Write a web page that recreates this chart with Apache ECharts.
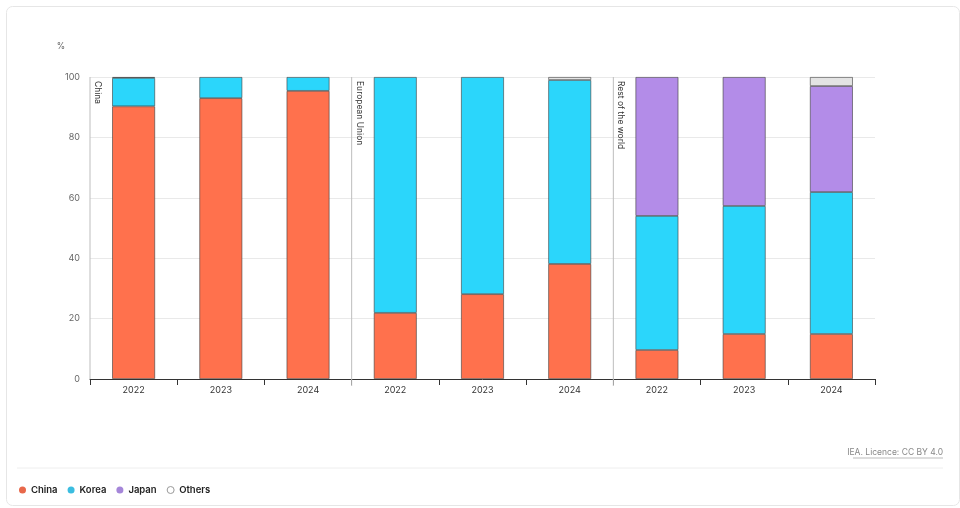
<!DOCTYPE html>
<html>
<head>
<meta charset="utf-8">
<script src="https://cdn.jsdelivr.net/npm/echarts@6/dist/echarts.min.js"></script>
<style>
html,body{margin:0;padding:0;background:#fff;}
#c{width:960px;height:508px;}
</style>
</head>
<body>
<div id="c"></div>
<script>
const categories = ['2022','2023','2024','2022','2023','2024','2022','2023','2024'];
const groupNames = ['China','European Union','Rest of the world'];
const groupStarts = [0, 3, 6];
const china  = [90.3, 93.0, 95.4, 21.9, 28.1, 38.1, 9.6, 14.9, 14.9];
const korea  = [9.4, 7.0, 4.6, 78.1, 71.9, 60.9, 44.4, 42.4, 47.0];
const japan  = [0.3, null, null, null, null, null, 46.0, 42.7, 35.1];
const others = [null, null, null, null, null, 1.0, null, null, 3.0];
const yTicks = [0, 20, 40, 60, 80, 100];

const FONT = 'Inter, "Noto Sans", sans-serif';
const colors = {China:'#FF714D', Korea:'#2BD6FB', Japan:'#B38CE8', Others:'#E3E3E3'};
const border = {borderColor:'rgba(60,60,60,0.75)', borderWidth:0.8};

function barSeries(name, data){
  return {
    name, type:'bar', stack:'s', data, barWidth:43,
    xAxisIndex:0, yAxisIndex:0,
    itemStyle:Object.assign({color:colors[name]}, border),
    emphasis:{disabled:true}
  };
}

const chart = echarts.init(document.getElementById('c'), null, {renderer:'canvas'});
chart.setOption({
  animation:false,
  textStyle:{fontFamily:FONT},
  grid:{left:90, right:85, top:77, bottom:129, containLabel:false},
  xAxis:[{
    type:'category', data:categories,
    axisLine:{show:true, lineStyle:{color:'#333', width:1}},
    axisTick:{show:true, length:6, lineStyle:{color:'#333'}},
    axisLabel:{color:'#333', fontSize:9, margin:7, fontFamily:FONT},
    splitLine:{show:false}
  },{
    type:'value', min:0, max:9, show:false
  }],
  yAxis:[{
    type:'value', min:0, max:100, interval:20,
    name:'%', nameLocation:'end', nameGap:26,
    nameTextStyle:{color:'#666', fontSize:8.5, align:'right', padding:[0,25,0,0], fontFamily:FONT},
    axisLine:{show:false}, axisTick:{show:false},
    axisLabel:{color:'#666', fontSize:9, margin:10, fontFamily:FONT,
      formatter:v => yTicks.includes(v) ? String(v) : ''},
    splitLine:{lineStyle:{color:'#e9e9e9', width:1}}
  }],
  legend:{
    left:14, top:480, itemWidth:7, itemHeight:7, itemGap:10, icon:'circle',
    textStyle:{color:'#222', fontSize:9.5, fontWeight:600, fontFamily:FONT, padding:[0,0,0,0]},
    data:[
      {name:'China', itemStyle:{color:'#E8684A', borderWidth:0}},
      {name:'Korea', itemStyle:{color:'#3BBDE0', borderWidth:0}},
      {name:'Japan', itemStyle:{color:'#A586D9', borderWidth:0}},
      {name:'Others', itemStyle:{color:'#fff', borderColor:'#999', borderWidth:1}}
    ],
    selectedMode:false
  },
  series:[
    barSeries('China', china),
    barSeries('Korea', korea),
    barSeries('Japan', japan),
    barSeries('Others', others),
    {
      type:'custom', xAxisIndex:1, yAxisIndex:0, silent:true, z:5,
      data:groupStarts.map((s,i)=>[s, groupNames[i]]),
      renderItem:function(params, api){
        const x = api.value(0);
        const top = api.coord([x, 100]);
        const bot = api.coord([x, 0]);
        const name = groupNames[params.dataIndex];
        return {type:'group', children:[
          {type:'line', shape:{x1:top[0], y1:top[1], x2:bot[0], y2:bot[1] + (x === 0 ? 0 : 7)},
           style:{stroke:'#bdbdbd', lineWidth:1}},
          {type:'text', x:top[0] + 3, y:top[1] + 4, rotation:-Math.PI/2,
           style:{text:name, fill:'#333', font:'8.5px ' + FONT, align:'left', verticalAlign:'bottom'}}
        ]};
      }
    }
  ],
  graphic:[
    {type:'rect', left:4, top:4, shape:{width:953, height:499, r:6},
     style:{fill:'none', stroke:'#e6e6e6', lineWidth:1}, z:-1},
    {type:'line', shape:{x1:17, y1:468, x2:943, y2:468}, style:{stroke:'#eeeeee', lineWidth:1}},
    {type:'text', right:17, top:448, style:{text:'IEA. Licence: CC BY 4.0', fill:'#888', font:'8.5px ' + FONT}},
    {type:'line', shape:{x1:853, y1:458, x2:943, y2:458}, style:{stroke:'#aaa', lineWidth:0.8}}
  ]
});
</script>
</body>
</html>
